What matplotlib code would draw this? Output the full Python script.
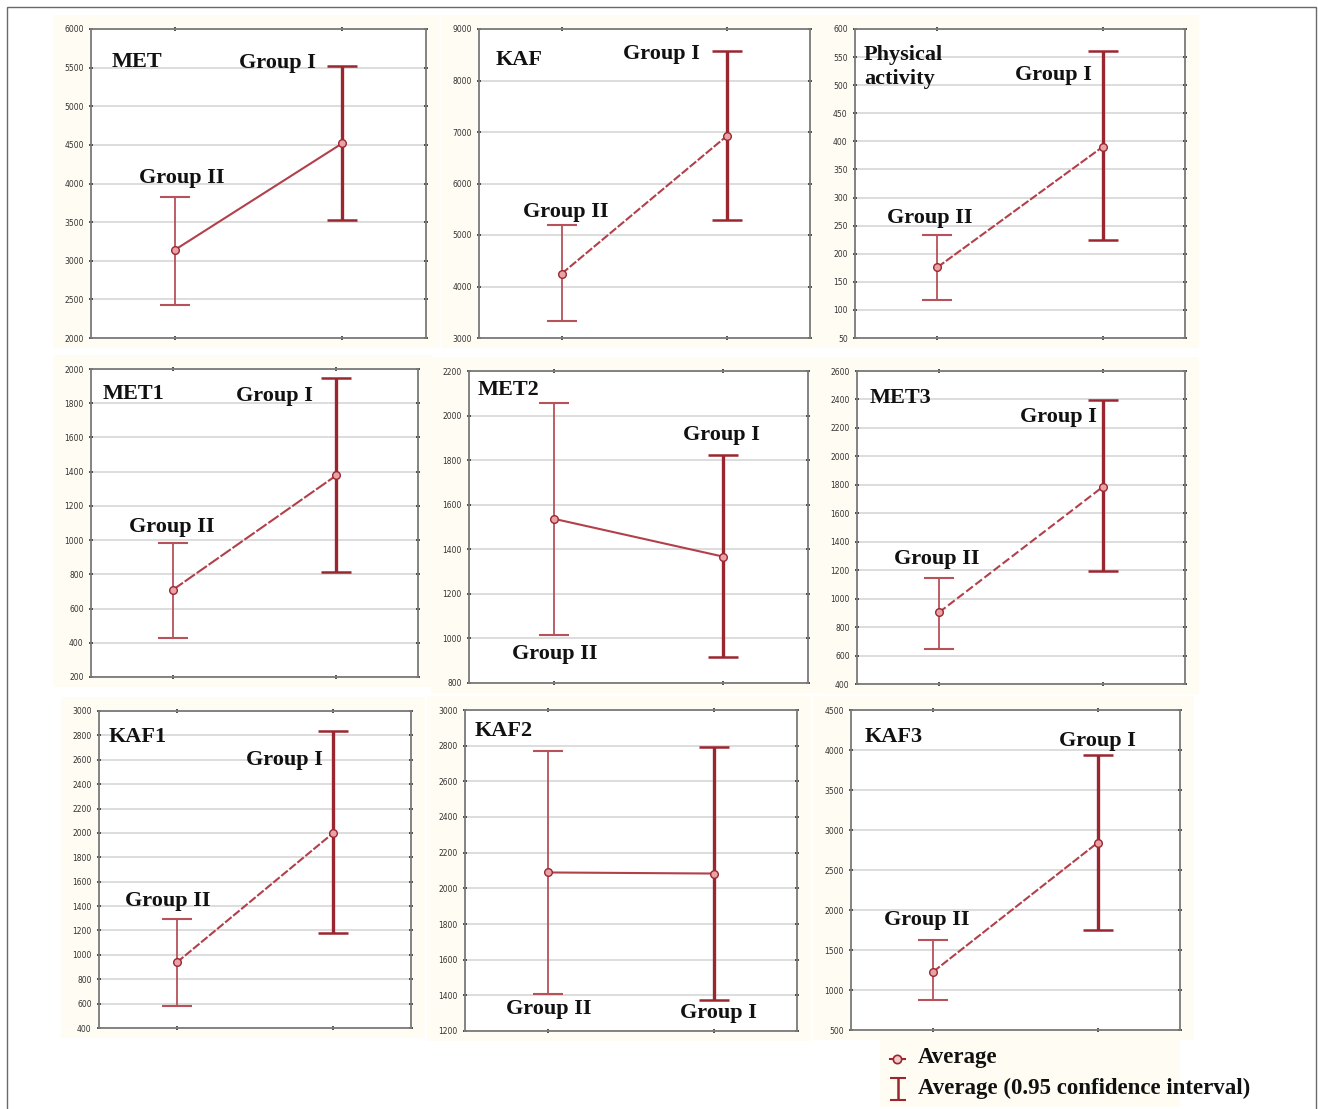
import matplotlib
matplotlib.use('Agg')
import matplotlib.pyplot as plt
import numpy as np
from matplotlib.patches import Rectangle

# ---------------- data ----------------
panels = ["MET", "KAF", "Physical\nactivity", "MET1", "MET2", "MET3", "KAF1", "KAF2", "KAF3"]
groups = ["Group II", "Group I"]
mean_g2 = [3140, 4250, 176, 709, 1537, 903, 939, 2089, 1229]
low_g2 = [2430, 3330, 118, 429, 1015, 645, 578, 1409, 875]
high_g2 = [3830, 5190, 233, 983, 2057, 1145, 1298, 2770, 1625]
mean_g1 = [4520, 6930, 390, 1378, 1367, 1787, 1998, 2083, 2842]
low_g1 = [3525, 5290, 224, 814, 918, 1195, 1177, 1372, 1750]
high_g1 = [5515, 8570, 560, 1947, 1824, 2395, 2836, 2794, 3938]
y_min = [2000, 3000, 50, 200, 800, 400, 400, 1200, 500]
y_max = [6000, 9000, 600, 2000, 2200, 2600, 3000, 3000, 4500]
y_step = [500, 1000, 50, 200, 200, 200, 200, 200, 500]
legend_labels = ["Average", "Average (0.95 confidence interval)"]

# ---------------- layout (pixels) ----------------
W, H = 1318, 1109
boxes = [(91, 29, 426, 338), (479, 29, 810, 338), (855, 29, 1185, 338),
         (91, 369, 418, 677), (469, 371, 808, 683), (857, 371, 1185, 684),
         (99, 711, 411, 1028), (465, 710, 797, 1031), (851, 710, 1180, 1030)]
# (x, y) axes-fraction positions for title, Group I, Group II labels
title_pos = [(0.063, 0.893), (0.051, 0.90), (0.027, 0.877), (0.034, 0.919), (0.024, 0.939),
             (0.037, 0.914), (0.032, 0.918), (0.03, 0.935), (0.04, 0.916)]
g1_pos = [(0.558, 0.89), (0.55, 0.919), (0.60, 0.851), (0.56, 0.912), (0.746, 0.795),
          (0.613, 0.853), (0.593, 0.845), (0.762, 0.056), (0.748, 0.903)]
g2_pos = [(0.272, 0.518), (0.263, 0.408), (0.227, 0.388), (0.248, 0.487), (0.254, 0.093),
          (0.244, 0.40), (0.221, 0.40), (0.253, 0.069), (0.231, 0.344)]
line_styles = ['-', (0, (4, 1)), (0, (4, 1)), (0, (6, 1)), '-', (0, (4, 1.5)),
               (0, (4, 1)), '-', (0, (4, 1))]

cream = '#fffcf3'
c_light = '#b8525a'
c_dark = '#9a2630'
c_line = '#b2404a'
serif = ['Liberation Serif', 'DejaVu Serif']

fig = plt.figure(figsize=(W / 100, H / 100), dpi=100)
fig.patch.set_facecolor('white')


def frect(l, t, r, b):
    return (l / W, 1 - b / H), (r - l) / W, (b - t) / H


# outer frame
xy, w, h = frect(7, 7, 1316, 1130)
fig.patches.append(Rectangle(xy, w, h, transform=fig.transFigure, fill=False,
                             edgecolor='#6a6a6a', lw=1.0, zorder=-5))

for i, (l, t, r, b) in enumerate(boxes):
    xy, w, h = frect(l - 38, t - 14, r + 14, b + 10)
    fig.patches.append(Rectangle(xy, w, h, transform=fig.transFigure,
                                 facecolor=cream, edgecolor='none', zorder=-5))
    (x0, y0), w, h = frect(l, t, r, b)
    ax = fig.add_axes([x0, y0, w, h])
    ax.set_zorder(1)
    ax.set_facecolor('white')
    ax.set_xlim(-0.5, 1.5)
    ax.set_ylim(y_min[i], y_max[i])
    ax.set_yticks(np.arange(y_min[i], y_max[i] + y_step[i] / 2, y_step[i]))
    ax.set_xticks([0, 1])
    ax.set_xticklabels(['', ''])
    ax.grid(axis='y', color='#dadada', lw=1.3)
    ax.set_axisbelow(True)
    for s in ax.spines.values():
        s.set_color('#7a7a7a')
        s.set_linewidth(1.3)
    ax.tick_params(axis='y', labelsize=5.5, labelcolor='#333333', length=2.5,
                   direction='inout', width=1.2, color='#333333', right=True, pad=4)
    ax.tick_params(axis='x', length=2.5, direction='inout', width=1.2,
                   color='#333333', top=True)
    for lab in ax.get_yticklabels():
        lab.set_fontfamily('DejaVu Sans')

    m2, m1 = mean_g2[i], mean_g1[i]
    ax.plot([0, 1], [m2, m1], color=c_line, lw=1.5, ls=line_styles[i], zorder=3)
    ax.errorbar([0], [m2], yerr=[[m2 - low_g2[i]], [high_g2[i] - m2]], fmt='none',
                ecolor=c_light, elinewidth=1.3, capsize=11, capthick=1.5, zorder=4)
    ax.errorbar([1], [m1], yerr=[[m1 - low_g1[i]], [high_g1[i] - m1]], fmt='none',
                ecolor=c_dark, elinewidth=2.4, capsize=11, capthick=1.8, zorder=4)
    ax.plot([0, 1], [m2, m1], 'o', ms=5.5, mfc='#e9a3a6', mec=c_dark, mew=1.0,
            ls='none', zorder=5)

    tx, ty = title_pos[i]
    ax.text(tx, ty, panels[i], transform=ax.transAxes, ha='left', va='center',
            fontsize=16, fontweight='bold', family=serif, color='#111111',
            linespacing=1.25)
    gx, gy = g1_pos[i]
    ax.text(gx, gy, groups[1], transform=ax.transAxes, ha='center', va='center',
            fontsize=16, fontweight='bold', family=serif, color='#111111')
    gx, gy = g2_pos[i]
    ax.text(gx, gy, groups[0], transform=ax.transAxes, ha='center', va='center',
            fontsize=16, fontweight='bold', family=serif, color='#111111')

# legend
(x0, y0), w, h = frect(880, 1040, 1180, 1107)
lax = fig.add_axes([x0, y0, w, h])
lax.set_zorder(1)
lax.set_xlim(880, 1180)
lax.set_ylim(1107, 1040)
lax.axis('off')
lax.add_patch(Rectangle((880, 1040), 300, 67, facecolor=cream, edgecolor='none', zorder=0))
lax.plot([890, 905], [1059, 1059], color=c_dark, lw=1.5, clip_on=False)
lax.plot([897.5], [1059], 'o', ms=6, mfc='#f3c9c9', mec=c_dark, mew=1.2, clip_on=False)
lax.errorbar([898], [1089], yerr=[[11], [11]], fmt='none', ecolor=c_dark,
             elinewidth=1.8, capsize=6, capthick=1.5, clip_on=False)
lax.text(918, 1058, legend_labels[0], ha='left', va='center', fontsize=16.5,
         fontweight='bold', family=serif, color='#111111', clip_on=False)
lax.text(918, 1088, legend_labels[1], ha='left', va='center', fontsize=16.5,
         fontweight='bold', family=serif, color='#111111', clip_on=False)

fig.savefig('out.png', dpi=100)
